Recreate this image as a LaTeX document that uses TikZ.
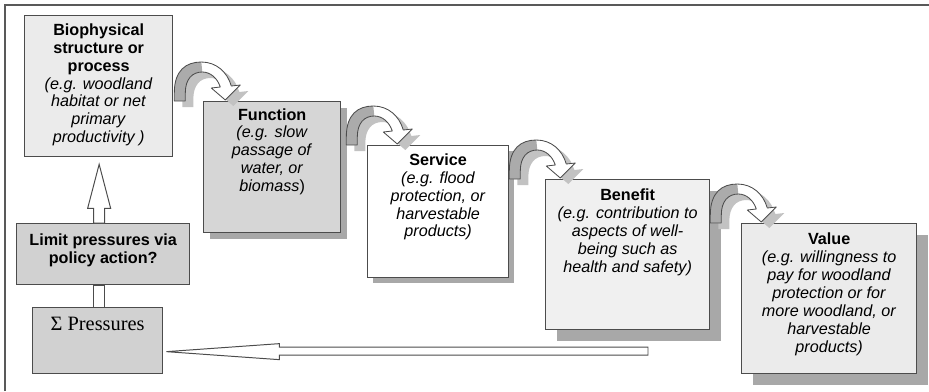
\documentclass[tikz,border=0pt]{standalone}
\usepackage{fontspec}
\setmainfont{Liberation Sans}
\newfontfamily\sigmafont{Liberation Serif}
\usetikzlibrary{calc,shadows}

% outline of the hop arrow and its shaded left leg (local px, y down)
\newcommand\hopoutline{(0,0) -- (0,-8) .. controls (0,-31) and (12,-39) .. (27,-39) .. controls (42,-39) and (53,-29) .. (57,-15) -- (66,-16) -- (51,-1) -- (37,-13) -- (46,-14) .. controls (43,-23) and (36,-29) .. (28,-29) .. controls (18,-29) and (11,-22) .. (11,-8) -- (11,0) -- cycle}
\newcommand\hopleft{(0,0) -- (0,-8) .. controls (0,-31) and (12,-39) .. (27,-39) -- (28,-29) .. controls (18,-29) and (11,-22) .. (11,-8) -- (11,0) -- cycle}

\tikzset{
  stagebox/.style={draw=black!70, line width=0.9pt, inner sep=0pt, anchor=north west},
  stagetext/.style={anchor=north, align=center, inner sep=0pt, font=\fontsize{11.5}{12.7}\selectfont},
  boxshadow/.style={drop shadow={shadow xshift=#1, shadow yshift=-#1, fill=black!34, opacity=1}},
  blockarrow/.style={draw=black!70, fill=white, line width=0.7pt, line join=miter},
  hoparrow/.pic={
    \fill[black!24, shift={(8,6)}] \hopoutline;
    \fill[white] \hopoutline;
    \fill[black!33] \hopleft;
    \draw[black!70, line width=0.6pt, line join=round] \hopoutline;
  }
}

\begin{document}
\begin{tikzpicture}[x=0.025cm, y=-0.025cm]
\useasboundingbox (0,0) rectangle (929,391);
% frame, only top and left edges
\draw[black!65, line width=1.3pt] (5,391) -- (5,5) -- (929,5);

% the cascade of boxes
\node[stagebox, fill=black!8, minimum width=3.7cm, minimum height=3.525cm] (bio) at (24,15) {};
\node[stagebox, boxshadow=0.15cm, fill=black!16, minimum width=3.425cm, minimum height=3.275cm] (func) at (203,101) {};
\node[stagebox, boxshadow=0.125cm, fill=white, minimum width=3.525cm, minimum height=3.3cm] (serv) at (367,145) {};
\node[stagebox, boxshadow=0.275cm, fill=black!6, minimum width=4.1cm, minimum height=3.75cm] (bene) at (545,179) {};
\node[stagebox, boxshadow=0.275cm, fill=black!8, minimum width=4.375cm, minimum height=3.75cm] (valu) at (741,223) {};
\node[stagebox, fill=black!18, minimum width=4.325cm, minimum height=1.525cm] (limit) at (16,223) {};
\node[stagebox, fill=black!18, minimum width=3.25cm, minimum height=1.65cm] (press) at (32,307) {};

% texts
\node[stagetext] (biotxt) at ([yshift=-6pt]bio.north)
  {\textbf{Biophysical}\\\textbf{structure or}\\\textbf{process}\\\textit{(e.g. woodland}\\\textit{habitat or net}\\\textit{primary}\\\textit{productivity )}};
\node[stagetext] (functxt) at ([yshift=-5pt]func.north)
  {\textbf{Function}\\\textit{(e.g. slow}\\\textit{passage of}\\\textit{water, or}\\\textit{biomass})};
\node[stagetext] (servtxt) at ([yshift=-6pt]serv.north)
  {\textbf{Service}\\\textit{(e.g. flood}\\\textit{protection, or}\\\textit{harvestable}\\\textit{products)}};
\node[stagetext] (benetxt) at ([yshift=-7pt]bene.north)
  {\textbf{Benefit}\\\textit{(e.g. contribution to}\\\textit{aspects of well-}\\\textit{being such as}\\\textit{health and safety)}};
\node[stagetext] (valutxt) at ([yshift=-7pt]valu.north)
  {\textbf{Value}\\\textit{(e.g. willingness to}\\\textit{pay for woodland}\\\textit{protection or for}\\\textit{more woodland, or}\\\textit{harvestable}\\\textit{products)}};
\node[stagetext, anchor=center, font=\fontsize{11.5}{12.7}\selectfont\bfseries] (limittxt) at ([yshift=3pt]limit.center)
  {Limit pressures via\\policy action?};
\node[stagetext, font=\fontsize{14.5}{16}\sigmafont] (presstxt) at ([yshift=-7pt]press.north) {Σ Pressures};

% hops between the stages
\pic at ($(bio.east |- func.north)+(1,0)$) {hoparrow};
\pic at ($(func.east |- serv.north)+(5,0)$) {hoparrow};
\pic at (serv.east |- bene.north) {hoparrow};
\pic at (bene.east |- valu.north) {hoparrow};

% feedback: pressures -> policy -> biophysical
\coordinate (uptip) at ($(bio.south)+(0.5,7)$);
\draw[blockarrow] (uptip) -- ++(-11.5,44) -- ++(6,0) -- ($(uptip |- limit.north)+(-5.5,0)$)
  -- ($(uptip |- limit.north)+(5.5,0)$) |- ($(uptip)+(11.5,44)$) -- cycle;
\draw[blockarrow] ($(uptip |- limit.south)+(-5.5,0)$) rectangle ($(uptip |- press.north)+(5.5,0)$);

% long return arrow into the pressures box
\coordinate (tail) at (648,351);
\coordinate (lefttip) at ($(press.east)+(3,11)$);
\draw[blockarrow] ($(tail)+(0,-4)$) -| ($(lefttip)+(113,-8)$) -- (lefttip)
  -- ($(lefttip)+(113,8)$) |- ($(tail)+(0,4)$) -- cycle;
\end{tikzpicture}
\end{document}
